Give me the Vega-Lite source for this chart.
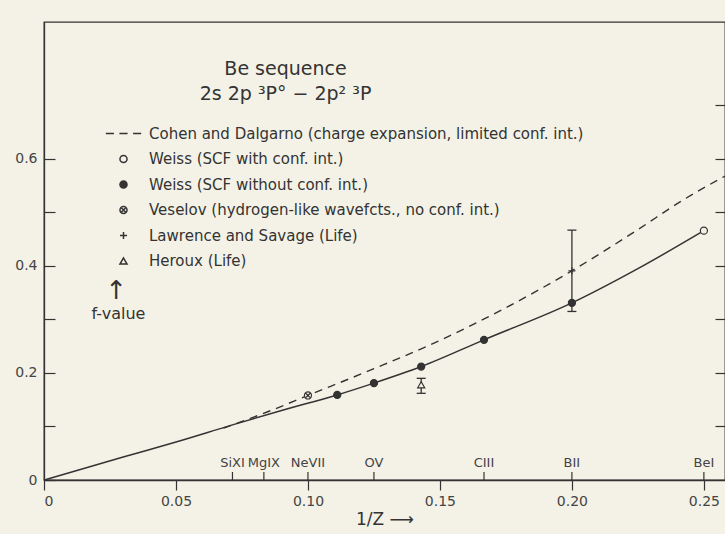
{
  "$schema": "https://vega.github.io/schema/vega-lite/v6.json",
  "width": 681,
  "height": 458,
  "autosize": {"type": "none"},
  "padding": {"left": 44, "top": 22, "right": 0, "bottom": 54},
  "background": "#f4f2e6",
  "config": {
    "font": "DejaVu Sans",
    "view": {"stroke": "#333", "strokeWidth": 1.3},
    "axis": {"domainColor": "#333", "tickColor": "#333", "labelColor": "#444", "titleColor": "#333", "labelFont": "DejaVu Sans", "titleFont": "DejaVu Sans", "grid": false, "domainWidth": 1.3, "tickWidth": 1.2}
  },
  "title": {
    "text": "Be sequence",
    "subtitle": "2s 2p ³P° − 2p² ³P",
    "anchor": "middle",
    "frame": "group",
    "dx": -99,
    "offset": -82,
    "fontSize": 19,
    "fontWeight": "normal",
    "font": "DejaVu Sans",
    "color": "#333",
    "subtitleFont": "DejaVu Sans",
    "subtitleFontSize": 19,
    "subtitleColor": "#333",
    "subtitlePadding": 6
  },
  "datasets": {
    "weiss": [
      {"invZ": 0, "f": 0},
      {"invZ": 0.03, "f": 0.043},
      {"invZ": 0.05, "f": 0.071},
      {"invZ": 0.0714, "f": 0.103},
      {"invZ": 0.09, "f": 0.13},
      {"invZ": 0.1111, "f": 0.159},
      {"invZ": 0.125, "f": 0.181},
      {"invZ": 0.1429, "f": 0.212},
      {"invZ": 0.1667, "f": 0.262},
      {"invZ": 0.2, "f": 0.331},
      {"invZ": 0.225, "f": 0.395},
      {"invZ": 0.25, "f": 0.466}
    ],
    "cohen": [
      {"invZ": 0.068, "f": 0.097},
      {"invZ": 0.085, "f": 0.128},
      {"invZ": 0.1, "f": 0.158},
      {"invZ": 0.125, "f": 0.208},
      {"invZ": 0.146, "f": 0.252},
      {"invZ": 0.175, "f": 0.322},
      {"invZ": 0.2, "f": 0.391},
      {"invZ": 0.225, "f": 0.468},
      {"invZ": 0.242, "f": 0.523},
      {"invZ": 0.258, "f": 0.568}
    ],
    "errs": [
      {"invZ": 0.2, "lo": 0.315, "hi": 0.467},
      {"invZ": 0.1429, "lo": 0.162, "hi": 0.19}
    ],
    "pts": [
      {"invZ": 0.25, "f": 0.466, "source": "Weiss (SCF with conf. int.)"},
      {"invZ": 0.1111, "f": 0.159, "source": "Weiss (SCF without conf. int.)"},
      {"invZ": 0.125, "f": 0.181, "source": "Weiss (SCF without conf. int.)"},
      {"invZ": 0.1429, "f": 0.212, "source": "Weiss (SCF without conf. int.)"},
      {"invZ": 0.1667, "f": 0.262, "source": "Weiss (SCF without conf. int.)"},
      {"invZ": 0.2, "f": 0.331, "source": "Weiss (SCF without conf. int.)"},
      {"invZ": 0.1, "f": 0.158, "source": "Veselov (hydrogen-like wavefcts., no conf. int.)"},
      {"invZ": 0.2, "f": 0.391, "source": "Lawrence and Savage (Life)"},
      {"invZ": 0.1429, "f": 0.178, "source": "Heroux (Life)"}
    ],
    "ions": [
      {"invZ": 0.0714, "ion": "SiXI"},
      {"invZ": 0.0833, "ion": "MgIX"},
      {"invZ": 0.1, "ion": "NeVII"},
      {"invZ": 0.125, "ion": "OV"},
      {"invZ": 0.1667, "ion": "CIII"},
      {"invZ": 0.2, "ion": "BII"},
      {"invZ": 0.25, "ion": "BeI"}
    ],
    "arrow": [
      {"invZ": 0.0273, "f": 0.353, "label": "↑"}
    ]
  },
  "resolve": {"axis": {"y": "independent"}},
  "layer": [
    {
      "data": {"name": "weiss"},
      "mark": {"type": "line", "color": "#333", "strokeWidth": 1.5, "interpolate": "monotone"},
      "encoding": {
        "x": {"field": "invZ", "type": "quantitative", "scale": {"domain": [0, 0.258], "nice": false, "zero": false},
          "axis": {"values": [0, 0.05, 0.1, 0.15, 0.2, 0.25], "labelExpr": "datum.value === 0 ? '0' : format(datum.value, '.2f')", "tickSize": 10, "labelPadding": 4, "labelFontSize": 14, "title": "1/Z ⟶", "titleFontSize": 17, "titleFontWeight": "normal", "titlePadding": 3, "domain": true}},
        "y": {"field": "f", "type": "quantitative", "scale": {"domain": [0, 0.856], "nice": false},
          "axis": {"values": [0, 0.1, 0.2, 0.3, 0.4, 0.5, 0.6], "labelExpr": "datum.value === 0 ? '0' : (round(datum.value * 10) % 2 === 0 ? format(datum.value, '.1f') : '')", "tickSize": -11, "labelPadding": 18, "labelFontSize": 14,
            "title": "f-value", "titleAngle": 0, "titleAlign": "center", "titleBaseline": "middle", "titleX": 74, "titleY": 291, "titleFontSize": 16, "titleFontWeight": "normal"}}
      }
    },
    {
      "data": {"name": "cohen"},
      "mark": {"type": "line", "color": "#333", "strokeWidth": 1.4, "strokeDash": [8, 6], "interpolate": "monotone"},
      "encoding": {
        "x": {"field": "invZ", "type": "quantitative"},
        "y": {"field": "f", "type": "quantitative",
          "axis": {"orient": "right", "values": [0.1, 0.2, 0.3, 0.4, 0.5, 0.6, 0.7], "labels": false, "tickSize": -10, "title": null, "domain": false}}
      }
    },
    {
      "data": {"name": "errs"},
      "mark": {"type": "rule", "color": "#333", "strokeWidth": 1.3},
      "encoding": {
        "x": {"field": "invZ", "type": "quantitative"},
        "y": {"field": "lo", "type": "quantitative", "axis": null},
        "y2": {"field": "hi"}
      }
    },
    {
      "data": {"name": "errs"},
      "mark": {"type": "tick", "orient": "horizontal", "color": "#333", "size": 9, "thickness": 1.3, "opacity": 1},
      "encoding": {
        "x": {"field": "invZ", "type": "quantitative"},
        "y": {"field": "lo", "type": "quantitative", "axis": null}
      }
    },
    {
      "data": {"name": "errs"},
      "mark": {"type": "tick", "orient": "horizontal", "color": "#333", "size": 9, "thickness": 1.3, "opacity": 1},
      "encoding": {
        "x": {"field": "invZ", "type": "quantitative"},
        "y": {"field": "hi", "type": "quantitative", "axis": null}
      }
    },
    {
      "data": {"name": "pts"},
      "mark": {"type": "point", "stroke": "#333", "strokeWidth": 1.2, "opacity": 1, "size": 50},
      "encoding": {
        "x": {"field": "invZ", "type": "quantitative"},
        "y": {"field": "f", "type": "quantitative", "axis": null},
        "shape": {"field": "source", "type": "nominal",
          "scale": {
            "domain": ["Cohen and Dalgarno (charge expansion, limited conf. int.)", "Weiss (SCF with conf. int.)", "Weiss (SCF without conf. int.)", "Veselov (hydrogen-like wavefcts., no conf. int.)", "Lawrence and Savage (Life)", "Heroux (Life)"],
            "range": ["M-5,0H-2.7M-1.15,0H1.15M2.7,0H5", "circle", "circle", "M1,0A1,1,0,1,1,-1,0A1,1,0,1,1,1,0ZM-0.7,-0.7L0.7,0.7M-0.7,0.7L0.7,-0.7", "M-1,0H1M0,-1V1", "triangle-up"]
          },
          "legend": {"title": null, "orient": "none", "legendX": 72, "legendY": 104, "labelFontSize": 15, "labelColor": "#333", "labelFont": "DejaVu Sans", "labelOffset": 18, "symbolSize": 50, "rowPadding": 9.5, "labelLimit": 600,
            "encode": {"symbols": {"update": {"stroke": {"value": "#333"}, "strokeWidth": {"value": 1.2}, "opacity": {"value": 1}}}}}
        },
        "fill": {"field": "source", "type": "nominal",
          "scale": {
            "domain": ["Cohen and Dalgarno (charge expansion, limited conf. int.)", "Weiss (SCF with conf. int.)", "Weiss (SCF without conf. int.)", "Veselov (hydrogen-like wavefcts., no conf. int.)", "Lawrence and Savage (Life)", "Heroux (Life)"],
            "range": ["transparent", "#f4f2e6", "#333333", "#f4f2e6", "transparent", "#f4f2e6"]
          },
          "legend": {"title": null, "orient": "none", "legendX": 72, "legendY": 104, "labelFontSize": 15, "labelColor": "#333", "labelFont": "DejaVu Sans", "labelOffset": 18, "symbolSize": 50, "rowPadding": 9.5, "labelLimit": 600,
            "encode": {"symbols": {"update": {"stroke": {"value": "#333"}, "strokeWidth": {"value": 1.2}, "opacity": {"value": 1}}}}}
        }
      }
    },
    {
      "data": {"name": "ions"},
      "mark": {"type": "tick", "orient": "vertical", "color": "#333", "size": 8, "thickness": 1.2, "yOffset": -4, "opacity": 1},
      "encoding": {
        "x": {"field": "invZ", "type": "quantitative"},
        "y": {"datum": 0, "type": "quantitative", "axis": null}
      }
    },
    {
      "data": {"name": "ions"},
      "mark": {"type": "text", "color": "#444", "fontSize": 13, "baseline": "bottom", "dy": -10, "font": "DejaVu Sans"},
      "encoding": {
        "x": {"field": "invZ", "type": "quantitative"},
        "y": {"datum": 0, "type": "quantitative", "axis": null},
        "text": {"field": "ion"}
      }
    },
    {
      "data": {"name": "arrow"},
      "mark": {"type": "text", "color": "#333", "fontSize": 26, "baseline": "middle", "font": "DejaVu Sans"},
      "encoding": {
        "x": {"field": "invZ", "type": "quantitative"},
        "y": {"field": "f", "type": "quantitative", "axis": null},
        "text": {"field": "label"}
      }
    }
  ]
}
